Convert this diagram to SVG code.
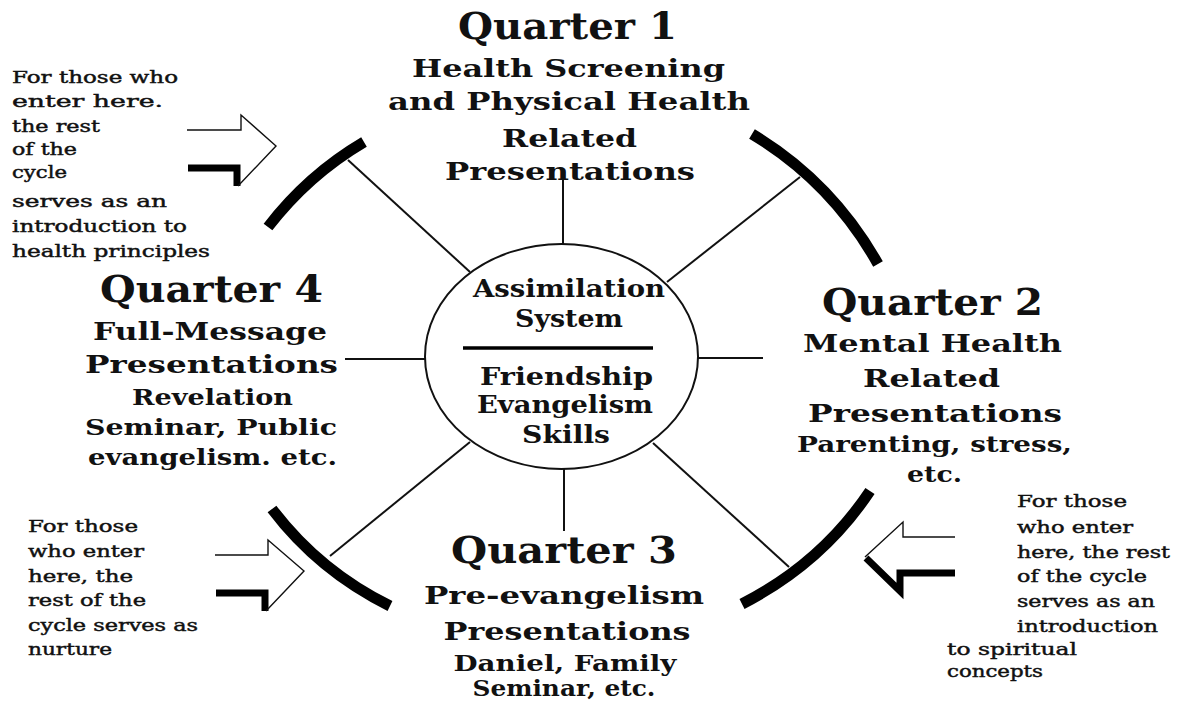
<svg xmlns="http://www.w3.org/2000/svg" width="1178" height="702" viewBox="0 0 1178 702">
<style>
.h{font-family:"DejaVu Serif","Liberation Serif",serif;font-weight:bold;fill:#111;text-anchor:middle}
.t{font-size:37px}
.s{font-size:25px}
.d{font-size:22px}
.c{font-size:24px}
.n{font-family:"DejaVu Serif","Liberation Serif",serif;font-size:17px;fill:#111;stroke:#111;stroke-width:0.45}
.sp{stroke:#111;stroke-width:2;fill:none}
.arc{stroke:#000;stroke-width:11;fill:none;stroke-linecap:butt}
.thin{stroke:#111;stroke-width:1.4;fill:none;stroke-linejoin:miter}
.thick{stroke:#000;stroke-width:7;fill:none;stroke-linejoin:miter}
</style>
<rect width="1178" height="702" fill="#fff"/>

<g id="connectors">
  <line class="sp" x1="563" y1="170" x2="563" y2="244"/>
  <line class="sp" x1="564" y1="469" x2="564" y2="531"/>
  <line class="sp" x1="345" y1="359" x2="425" y2="359"/>
  <line class="sp" x1="698" y1="358" x2="763" y2="358"/>
  <line class="sp" x1="348" y1="160" x2="470" y2="272"/>
  <line class="sp" x1="800" y1="177" x2="667" y2="282"/>
  <line class="sp" x1="470" y1="442" x2="330" y2="556"/>
  <line class="sp" x1="653" y1="443" x2="789" y2="567"/>
</g>

<g id="cycle-arcs">
  <path class="arc" d="M268,227 Q308,175 364,142"/>
  <path class="arc" d="M752,134 Q832,182 878,264"/>
  <path class="arc" d="M272,509 Q319,571 390,606"/>
  <path class="arc" d="M870,491 Q822,563 742,604"/>
</g>

<g id="center">
  <ellipse cx="561.5" cy="356.5" rx="136.5" ry="112.5" fill="#fff" stroke="#111" stroke-width="2"/>
  <text class="h c" x="569" y="297" textLength="192" lengthAdjust="spacingAndGlyphs">Assimilation</text>
  <text class="h c" x="569" y="327" textLength="108" lengthAdjust="spacingAndGlyphs">System</text>
  <line x1="463" y1="348" x2="653" y2="348" stroke="#000" stroke-width="3.5"/>
  <text class="h c" x="566.5" y="385" textLength="173" lengthAdjust="spacingAndGlyphs">Friendship</text>
  <text class="h c" x="565" y="413" textLength="176" lengthAdjust="spacingAndGlyphs">Evangelism</text>
  <text class="h c" x="566" y="443" textLength="88" lengthAdjust="spacingAndGlyphs">Skills</text>
</g>

<g id="quarter1">
  <text class="h t" x="567.5" y="39" textLength="219" lengthAdjust="spacingAndGlyphs">Quarter 1</text>
  <text class="h s" x="568.5" y="77" textLength="313" lengthAdjust="spacingAndGlyphs">Health Screening</text>
  <text class="h s" x="569" y="110" textLength="362" lengthAdjust="spacingAndGlyphs">and Physical Health</text>
  <text class="h s" x="569.5" y="147" textLength="135" lengthAdjust="spacingAndGlyphs">Related</text>
  <text class="h s" x="570" y="180" textLength="250" lengthAdjust="spacingAndGlyphs">Presentations</text>
</g>

<g id="quarter2">
  <text class="h t" x="932.5" y="315" textLength="221" lengthAdjust="spacingAndGlyphs">Quarter 2</text>
  <text class="h s" x="932.5" y="352" textLength="259" lengthAdjust="spacingAndGlyphs">Mental Health</text>
  <text class="h s" x="931.5" y="387" textLength="137" lengthAdjust="spacingAndGlyphs">Related</text>
  <text class="h s" x="935" y="422" textLength="254" lengthAdjust="spacingAndGlyphs">Presentations</text>
  <text class="h d" x="934.5" y="452" textLength="275" lengthAdjust="spacingAndGlyphs">Parenting, stress,</text>
  <text class="h d" x="934.5" y="482" textLength="55" lengthAdjust="spacingAndGlyphs">etc.</text>
</g>

<g id="quarter3">
  <text class="h t" x="564" y="563" textLength="226" lengthAdjust="spacingAndGlyphs">Quarter 3</text>
  <text class="h s" x="564" y="604" textLength="280" lengthAdjust="spacingAndGlyphs">Pre-evangelism</text>
  <text class="h s" x="567" y="640" textLength="247" lengthAdjust="spacingAndGlyphs">Presentations</text>
  <text class="h d" x="565" y="671" textLength="223" lengthAdjust="spacingAndGlyphs">Daniel, Family</text>
  <text class="h d" x="564" y="696" textLength="183" lengthAdjust="spacingAndGlyphs">Seminar, etc.</text>
</g>

<g id="quarter4">
  <text class="h t" x="211.5" y="302" textLength="223" lengthAdjust="spacingAndGlyphs">Quarter 4</text>
  <text class="h s" x="210" y="340" textLength="234" lengthAdjust="spacingAndGlyphs">Full-Message</text>
  <text class="h s" x="211.5" y="373" textLength="253" lengthAdjust="spacingAndGlyphs">Presentations</text>
  <text class="h d" x="212.5" y="405" textLength="161" lengthAdjust="spacingAndGlyphs">Revelation</text>
  <text class="h d" x="211" y="435" textLength="252" lengthAdjust="spacingAndGlyphs">Seminar, Public</text>
  <text class="h d" x="212.5" y="465" textLength="249" lengthAdjust="spacingAndGlyphs">evangelism. etc.</text>
</g>

<g id="entry-top-left">
  <text class="n" x="12" y="83" textLength="166" lengthAdjust="spacingAndGlyphs">For those who</text>
  <text class="n" x="12" y="107" textLength="151" lengthAdjust="spacingAndGlyphs">enter  here.</text>
  <text class="n" x="12" y="132" textLength="88" lengthAdjust="spacingAndGlyphs">the rest</text>
  <text class="n" x="12" y="155" textLength="65" lengthAdjust="spacingAndGlyphs">of the</text>
  <text class="n" x="12" y="178" textLength="55" lengthAdjust="spacingAndGlyphs">cycle</text>
  <text class="n" x="12" y="207" textLength="155" lengthAdjust="spacingAndGlyphs">serves  as  an</text>
  <text class="n" x="12" y="232" textLength="175" lengthAdjust="spacingAndGlyphs">introduction to</text>
  <text class="n" x="12" y="257" textLength="198" lengthAdjust="spacingAndGlyphs">health principles</text>
  <path class="thick" d="M188,168 H237 V186"/>
  <path class="thin" d="M187,130 H241 V115 L276,146 L238,186"/>
</g>

<g id="entry-bottom-left">
  <text class="n" x="28" y="532" textLength="110" lengthAdjust="spacingAndGlyphs">For those</text>
  <text class="n" x="28" y="557" textLength="116" lengthAdjust="spacingAndGlyphs">who enter</text>
  <text class="n" x="28" y="582" textLength="105" lengthAdjust="spacingAndGlyphs">here, the</text>
  <text class="n" x="28" y="606" textLength="118" lengthAdjust="spacingAndGlyphs">rest of the</text>
  <text class="n" x="28" y="631" textLength="170" lengthAdjust="spacingAndGlyphs">cycle serves as</text>
  <text class="n" x="28" y="655" textLength="84" lengthAdjust="spacingAndGlyphs">nurture</text>
  <path class="thick" d="M216,593 H265 V611"/>
  <path class="thin" d="M215,555 H268 V540 L304,571 L266,611"/>
</g>

<g id="entry-right">
  <text class="n" x="1017" y="507" textLength="110" lengthAdjust="spacingAndGlyphs">For those</text>
  <text class="n" x="1017" y="533" textLength="116" lengthAdjust="spacingAndGlyphs">who enter</text>
  <text class="n" x="1017" y="558" textLength="153" lengthAdjust="spacingAndGlyphs">here, the rest</text>
  <text class="n" x="1017" y="582" textLength="130" lengthAdjust="spacingAndGlyphs">of the cycle</text>
  <text class="n" x="1017" y="607" textLength="138" lengthAdjust="spacingAndGlyphs">serves as an</text>
  <text class="n" x="1017" y="632" textLength="141" lengthAdjust="spacingAndGlyphs">introduction</text>
  <text class="n" x="947" y="655" textLength="130" lengthAdjust="spacingAndGlyphs">to spiritual</text>
  <text class="n" x="947" y="677" textLength="96" lengthAdjust="spacingAndGlyphs">concepts</text>
  <path class="thick" d="M866,558 L900,591 V573 H955"/>
  <path class="thin" d="M955,537 H903 V522 L865,557"/>
</g>
</svg>
